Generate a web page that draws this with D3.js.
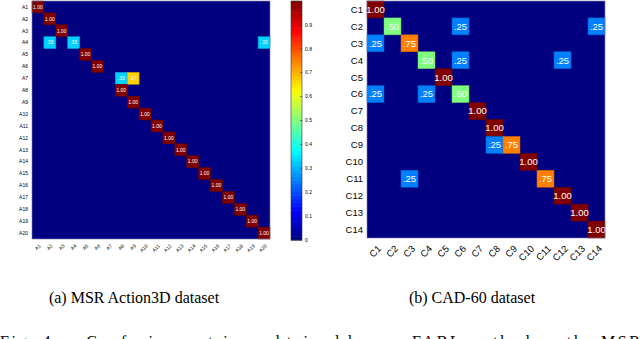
<!DOCTYPE html>
<html><head><meta charset="utf-8">
<script src="https://cdn.jsdelivr.net/npm/d3@7"></script>
<style>body{margin:0;background:#fff;} svg{display:block;}</style>
</head><body>
<svg id="c" width="640" height="339"></svg>
<script>
// ---- data ----
const msrLabels = d3.range(1, 21).map(i => "A" + i);
// off-diagonal / non-unit rows of MSR confusion matrix: [row, col, value]
const msrCells = [
  [0,0,1.00],[1,1,1.00],[2,2,1.00],
  [3,1,0.33],[3,3,0.33],[3,19,0.33],
  [4,4,1.00],[5,5,1.00],
  [6,7,0.33],[6,8,0.67],
  [7,7,1.00],[8,8,1.00],[9,9,1.00],[10,10,1.00],[11,11,1.00],[12,12,1.00],
  [13,13,1.00],[14,14,1.00],[15,15,1.00],[16,16,1.00],[17,17,1.00],[18,18,1.00],[19,19,1.00]
];
const cadLabels = d3.range(1, 15).map(i => "C" + i);
const cadCells = [
  [0,0,1.00],
  [1,1,0.50],[1,5,0.25],[1,13,0.25],
  [2,0,0.25],[2,2,0.75],
  [3,3,0.50],[3,5,0.25],[3,11,0.25],
  [4,4,1.00],
  [5,0,0.25],[5,3,0.25],[5,5,0.50],
  [6,6,1.00],[7,7,1.00],
  [8,7,0.25],[8,8,0.75],
  [9,9,1.00],
  [10,2,0.25],[10,10,0.75],
  [11,11,1.00],[12,12,1.00],[13,13,1.00]
];
const cbTicks = [0,0.1,0.2,0.3,0.4,0.5,0.6,0.7,0.8,0.9];
const captions = ["(a) MSR Action3D dataset", "(b) CAD-60 dataset"];
const figText = "Fig. 4.    Confusion matrices obtained by our FABL method on the MSR";

// ---- helpers ----
function jet(t){
  const c = v => Math.max(0, Math.min(1, v));
  const r = c(1.5 - Math.abs(4*t - 3)), g = c(1.5 - Math.abs(4*t - 2)), b = c(1.5 - Math.abs(4*t - 1));
  return d3.rgb(r*255, g*255, b*255).toString();
}
const fmt = v => v >= 1 ? v.toFixed(2) : d3.format(".2f")(v).replace(/^0/, "");
const svg = d3.select("#c");

function matrix(opt){
  const g = svg.append("g");
  const x = d3.scaleBand().domain(opt.labels).range([opt.x0, opt.x0 + opt.w]);
  const y = d3.scaleBand().domain(opt.labels).range([opt.y0, opt.y0 + opt.h]);
  g.append("rect").attr("x", opt.x0).attr("y", opt.y0).attr("width", opt.w).attr("height", opt.h)
    .attr("fill", jet(0));
  g.selectAll("rect.cell").data(opt.cells).join("rect").attr("class","cell")
    .attr("x", d => x(opt.labels[d[1]])).attr("y", d => y(opt.labels[d[0]]))
    .attr("width", x.bandwidth()).attr("height", y.bandwidth())
    .attr("fill", d => jet(d[2]))
    .attr("stroke", d => d3.rgb(jet(d[2])).darker(0.6)).attr("stroke-width", 0.5);
  g.selectAll("text.val").data(opt.cells).join("text").attr("class","val")
    .attr("x", d => x(opt.labels[d[1]]) + x.bandwidth()/2)
    .attr("y", d => y(opt.labels[d[0]]) + y.bandwidth()/2)
    .attr("dy", "0.35em").attr("text-anchor", "middle")
    .attr("fill", "#fff").attr("font-family", "Liberation Sans, Arial, sans-serif")
    .attr("font-size", opt.vfs).text(d => fmt(d[2]));
  // y axis labels
  g.selectAll("text.yl").data(opt.labels).join("text").attr("class","yl")
    .attr("x", opt.x0 - opt.ypad).attr("y", d => y(d) + y.bandwidth()/2)
    .attr("dy", "0.35em").attr("text-anchor", "end")
    .attr("font-family", "Liberation Sans, Arial, sans-serif").attr("font-size", opt.lfs)
    .attr("fill", "#000").text(d => d);
  // x axis labels rotated
  g.selectAll("text.xl").data(opt.labels).join("text").attr("class","xl")
    .attr("transform", d => `translate(${x(d) + x.bandwidth()/2 + opt.xoff},${opt.y0 + opt.h + opt.xpad}) rotate(-45)`)
    .attr("text-anchor", "end").attr("dy", "0.35em")
    .attr("font-family", "Liberation Sans, Arial, sans-serif").attr("font-size", opt.lfs)
    .attr("fill", "#000").text(d => d);
  g.append("rect").attr("x", opt.x0).attr("y", opt.y0).attr("width", opt.w).attr("height", opt.h)
    .attr("fill", "none").attr("stroke", "#7f7fb0").attr("stroke-width", 0.6);
}

matrix({labels: msrLabels, cells: msrCells, x0: 32, y0: 1, w: 238, h: 238, vfs: 5, lfs: 5, ypad: 4, xpad: 6, xoff: 2});
matrix({labels: cadLabels, cells: cadCells, x0: 367, y0: 1, w: 238, h: 237, vfs: 9.5, lfs: 9.5, ypad: 4, xpad: 9, xoff: 4});

// ---- colorbar ----
const cb = svg.append("g");
const cy = d3.scaleLinear().domain([0, 1]).range([240, 1]);
const steps = d3.range(0, 64);
cb.selectAll("rect.s").data(steps).join("rect").attr("class","s")
  .attr("x", 291).attr("width", 11)
  .attr("y", d => cy((d+1)/64)).attr("height", d => cy(d/64) - cy((d+1)/64) + 0.5)
  .attr("fill", d => jet((d + 0.5)/64));
cb.append("rect").attr("x", 291).attr("y", cy(1)).attr("width", 11).attr("height", cy(0) - cy(1))
  .attr("fill", "none").attr("stroke", "#333").attr("stroke-width", 0.6);
cb.selectAll("line.t").data(cbTicks).join("line").attr("class","t")
  .attr("x1", 300).attr("x2", 302).attr("y1", d => cy(d)).attr("y2", d => cy(d))
  .attr("stroke", "#333").attr("stroke-width", 0.6);
cb.selectAll("text.t").data(cbTicks).join("text").attr("class","t")
  .attr("x", 305).attr("y", d => cy(d)).attr("dy", "0.35em")
  .attr("font-family", "Liberation Sans, Arial, sans-serif").attr("font-size", 5)
  .attr("fill", "#000").text(d => d === 0 ? "0" : d3.format(".1f")(d));

// ---- captions ----
const capX = [134, 472];
svg.selectAll("text.cap").data(captions).join("text").attr("class","cap")
  .attr("x", (d, i) => capX[i]).attr("y", 303).attr("text-anchor", "middle")
  .attr("font-family", "Liberation Serif, Times New Roman, serif").attr("font-size", 16)
  .attr("fill", "#000").text(d => d);
svg.append("text").attr("x", 0).attr("y", 347)
  .attr("font-family", "Liberation Serif, Times New Roman, serif").attr("font-size", 16)
  .attr("textLength", 640).attr("lengthAdjust", "spacing").attr("xml:space", "preserve")
  .attr("fill", "#000").text(figText);
</script>
</body></html>
